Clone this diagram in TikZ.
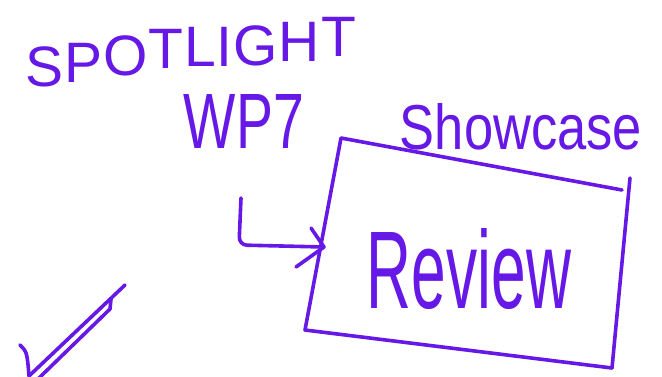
\documentclass[tikz,border=0pt]{standalone}
\usepackage{fontspec}
\setmainfont{Liberation Sans}
\usepackage{graphicx}
\definecolor{ink}{RGB}{102,24,230}
\begin{document}
\begin{tikzpicture}[x=1pt,y=-1pt,
  pen/.style={draw=ink,line width=3.6pt,line cap=round,line join=round},
  hand/.style={text=ink,inner sep=0pt,outer sep=0pt},
  capl/.style={hand,anchor=base west,font=\fontsize{57}{58}\selectfont}]
\useasboundingbox (0,0) rectangle (662,376);
% SPOTLIGHT, letter by letter, rising to the right
\node[capl] (sp1) at (25,86) {S};
\node[capl] (sp2) at (64,82) {P};
\node[capl] (sp3) at (103,75) {O};
\node[capl] (sp4) at (148.3,68) {T};
\node[capl] (sp5) at (184.1,66) {L};
\node[capl] (sp6) at (216.8,66) {I};
\node[capl] (sp7) at (233.6,65) {G};
\node[capl] (sp8) at (278.9,61) {H};
\node[capl] (sp9) at (321.1,56) {T};
% other texts
\node[hand] (wp) at (244,121) {\resizebox{120pt}{54pt}{WP7}};
\node[hand] (show) at (521,127) {\resizebox{242pt}{46pt}{Showcase}};
\node[hand] (review) at (469,269) {\resizebox{204pt}{80pt}{Review}};
% box
\coordinate (btl) at (341,138);
\coordinate (btr) at (622,190);
\coordinate (brt) at (630,178);
\coordinate (bbr) at (612,368);
\coordinate (bbl) at (305,330);
\draw[pen] (btr) -- (btl) -- (bbl) -- (bbr);
\draw[pen] (brt) -- (bbr);
% arrow into box
\coordinate (arrS) at (241,198);
\coordinate (arrC) at (239,245);
\coordinate (arrT) at (324,247);
\coordinate (barbU) at (311,228);
\coordinate (barbL) at (296,267);
\draw[pen,rounded corners=8pt] (arrS) -- (arrC) -- (arrT);
\draw[pen] (barbU) -- (arrT) -- (barbL);
% check-like strokes
\coordinate (c1) at (20,345);
\coordinate (c2) at (29,376);
\coordinate (c3) at (125,285);
\coordinate (c4) at (111,299);
\coordinate (c5) at (38,379);
\draw[pen] (c1) .. controls (27,352) .. (c2);
\draw[pen] (c2) -- (c3);
\draw[pen] (c4) -- (110,309) -- (c5);
\end{tikzpicture}
\end{document}
